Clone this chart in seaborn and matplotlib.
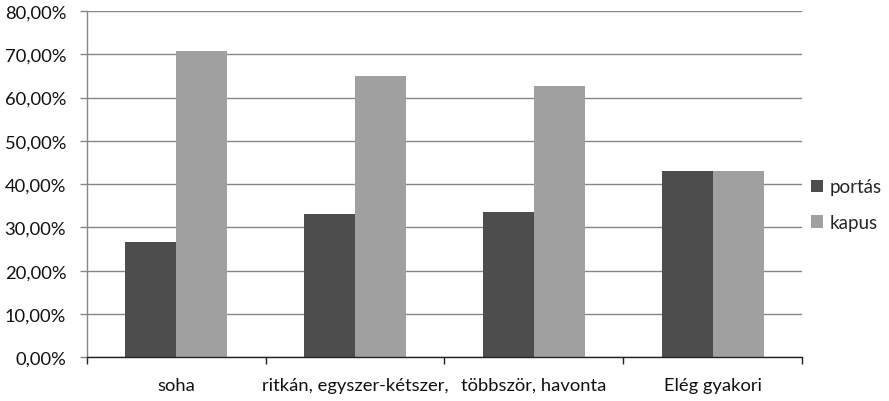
import matplotlib
matplotlib.use("Agg")
import matplotlib.pyplot as plt
import seaborn as sns
import pandas as pd
from matplotlib.ticker import FuncFormatter, FixedLocator

categories = ["soha", "ritkán, egyszer-kétszer,", "többször, havonta", "Elég gyakori"]
portas = [26.7, 33.1, 33.6, 43.0]
kapus = [70.8, 65.0, 62.7, 43.0]
series = ["portás", "kapus"]
colors = ["#4d4d4d", "#a0a0a0"]

df = pd.DataFrame({
    "cat": categories * 2,
    "val": portas + kapus,
    "series": [series[0]] * 4 + [series[1]] * 4,
})

sns.set_theme(style="white")
plt.rcParams["font.family"] = ["Lato", "DejaVu Sans"]

fig = plt.figure(figsize=(8.89, 4.02), dpi=100)
ax = fig.add_axes([87 / 889, 1 - 358.3 / 402, (802 - 87) / 889, (358.3 - 12) / 402])

sns.barplot(data=df, x="cat", y="val", hue="series", palette=colors,
            width=0.57, gap=0, saturation=1, ax=ax, legend=True, linewidth=0)

ax.set_ylim(0, 80)
ax.set_xlim(-0.5, 3.5)
ax.set_yticks(range(0, 81, 10))
ax.yaxis.set_major_formatter(FuncFormatter(lambda v, p: f"{v:.2f}".replace(".", ",") + "%"))
ax.grid(axis="y", color="#868686", linewidth=1)
ax.set_axisbelow(True)

ax.set_xticks(range(4))
ax.set_xticklabels(categories)
ax.xaxis.set_minor_locator(FixedLocator([-0.5, 0.5, 1.5, 2.5, 3.5]))
ax.tick_params(axis="x", which="major", length=0, pad=14, labelsize=13.2, labelcolor="#111111")
ax.tick_params(axis="x", which="minor", length=5, width=1, color="#222222", direction="out", bottom=True)
ax.tick_params(axis="y", which="major", length=5, width=1, color="#868686", direction="out", left=True,
               labelsize=13.2, labelcolor="#111111", pad=10)

for s in ["top", "right"]:
    ax.spines[s].set_visible(False)
ax.spines["left"].set_color("#868686")
ax.spines["bottom"].set_color("#222222")
ax.spines["left"].set_linewidth(1)
ax.spines["bottom"].set_linewidth(1)

ax.set_xlabel("")
ax.set_ylabel("")

handles, labels = ax.get_legend_handles_labels()
ax.get_legend().remove()
fig.legend(handles, labels, loc="center left", bbox_to_anchor=(0.912, 0.488), frameon=False,
           handlelength=0.65, handleheight=0.65, handletextpad=0.35, labelspacing=1.0, fontsize=13.5,
           borderaxespad=0, borderpad=0)

fig.savefig("out.png", dpi=100)
